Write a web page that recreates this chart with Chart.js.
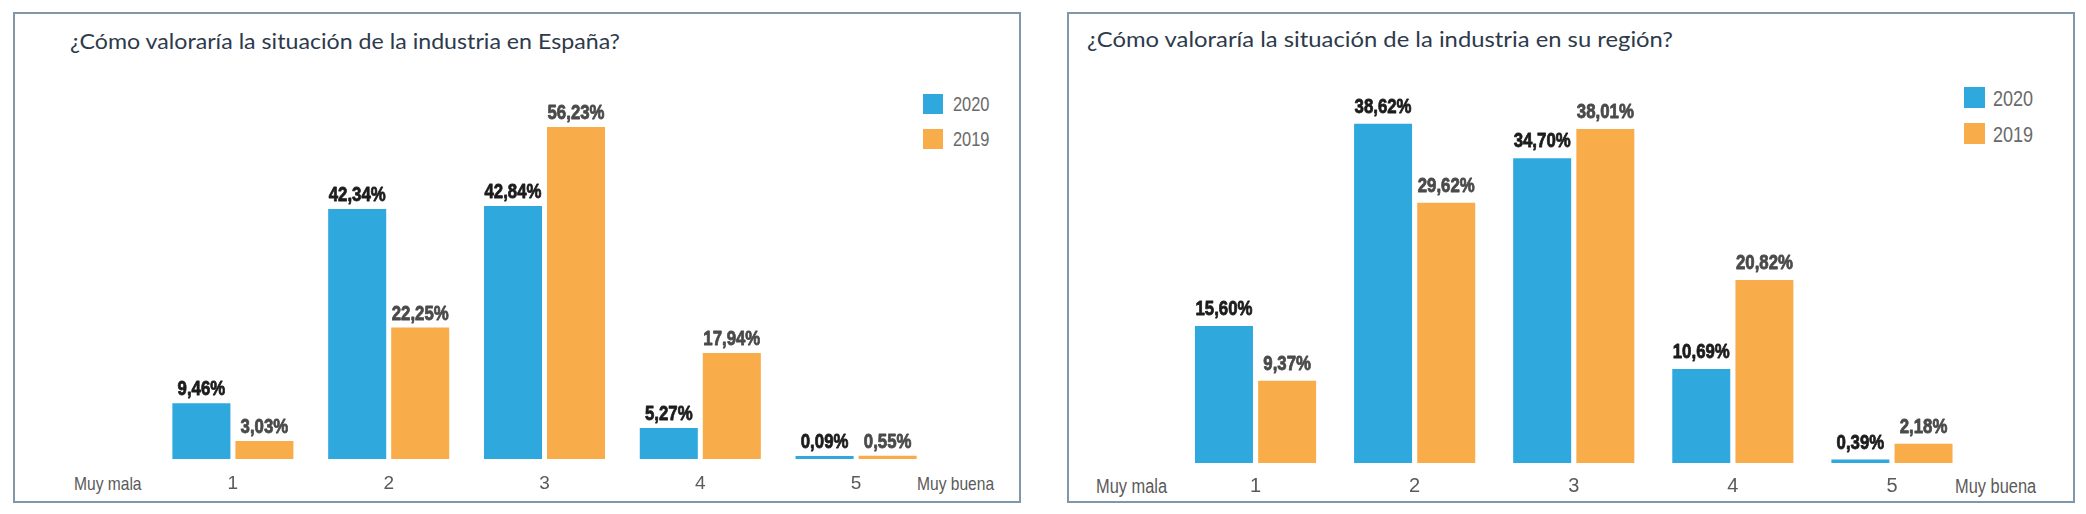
<!DOCTYPE html>
<html>
<head>
<meta charset="utf-8">
<script src="https://cdn.jsdelivr.net/npm/chart.js@4.4.1/dist/chart.umd.min.js"></script>
<style>
  html, body { margin:0; padding:0; background:#ffffff; }
  body { width:2086px; height:514px; position:relative; overflow:hidden; }
  .panel { position:absolute; top:12px; width:1008px; height:491px; box-sizing:border-box; border:2px solid #8096a9; }
  .title { position:absolute; font-family:Lato, "Open Sans", sans-serif; font-size:22px; line-height:22px; color:#2d3a4b; white-space:nowrap; transform-origin:0 0; }
  .axtxt { position:absolute; font-family:"Liberation Sans", Arial, sans-serif; color:#5a5a5a; white-space:nowrap; transform:scaleX(0.82); transform-origin:0 0; }
  .lgbox { position:absolute; }
  .lgtxt { position:absolute; font-family:"Liberation Sans", Arial, sans-serif; color:#6a6a6a; white-space:nowrap; transform:scaleX(0.82); transform-origin:0 0; }
  canvas { position:absolute; top:0; }
</style>
</head>
<body>
<div class="panel" style="left:13px;"></div>
<div class="panel" style="left:1067px;"></div>

<div class="title" data-w="550" style="left:70px; top:30px;">¿Cómo valoraría la situación de la industria en España?</div>
<div class="title" data-w="586" style="left:1087px; top:28px;">¿Cómo valoraría la situación de la industria en su región?</div>

<div class="axtxt" style="left:74px; top:474px; font-size:19px; line-height:19px;">Muy mala</div>
<div class="axtxt" style="left:917px; top:474px; font-size:19px; line-height:19px;">Muy buena</div>
<div class="axtxt" style="left:1096px; top:476px; font-size:20px; line-height:20px;">Muy mala</div>
<div class="axtxt" style="left:1955px; top:476px; font-size:20px; line-height:20px;">Muy buena</div>

<div id="legendL"></div>
<div id="legendR"></div>

<canvas id="cL" width="1043" height="514" style="left:0px; width:1043px; height:514px;"></canvas>
<canvas id="cR" width="1043" height="514" style="left:1043px; width:1043px; height:514px;"></canvas>

<script>
// ---- data ----
const categories = ['1', '2', '3', '4', '5'];
const seriesNames = ['2020', '2019'];
const spain2020 = [9.46, 42.34, 42.84, 5.27, 0.09];
const spain2019 = [3.03, 22.25, 56.23, 17.94, 0.55];
const region2020 = [15.60, 38.62, 34.70, 10.69, 0.39];
const region2019 = [9.37, 29.62, 38.01, 20.82, 2.18];

// ---- styles ----
const BLUE = '#2fa8de';
const ORANGE = '#f8ad4a';
const SANS = '"Liberation Sans", Arial, sans-serif';

// fit titles to the reference width
document.querySelectorAll('.title').forEach(el => {
  const w = el.getBoundingClientRect().width;
  const target = parseFloat(el.dataset.w);
  if (w > 0) el.style.transform = 'scaleX(' + (target / w) + ')';
});

function fmt(v) { return v.toFixed(2).replace('.', ',') + '%'; }

const valueLabels = {
  id: 'valueLabels',
  afterDatasetsDraw(chart, args, opts) {
    const ctx = chart.ctx;
    chart.data.datasets.forEach((ds, i) => {
      const meta = chart.getDatasetMeta(i);
      meta.data.forEach((bar, j) => {
        ctx.save();
        ctx.font = 'bold ' + opts.size + 'px ' + SANS;
        ctx.textAlign = 'center';
        ctx.textBaseline = 'alphabetic';
        ctx.fillStyle = opts.colors[i];
        ctx.strokeStyle = opts.colors[i];
        ctx.lineWidth = 0.8;
        ctx.lineJoin = 'round';
        ctx.translate(bar.x, bar.y - opts.gap);
        ctx.scale(opts.squeeze, 1);
        const t = fmt(ds.data[j]);
        ctx.fillText(t, 0, 0);
        ctx.strokeText(t, 0, 0);
        ctx.restore();
      });
    });
  }
};

function legendHTML(el, cfg) {
  let html = '';
  seriesNames.forEach((name, i) => {
    const y = cfg.top + i * cfg.step;
    html += '<div class="lgbox" style="left:' + cfg.boxX + 'px; top:' + y + 'px; width:' + cfg.box + 'px; height:' + cfg.box + 'px; background:' + (i === 0 ? BLUE : ORANGE) + ';"></div>';
    html += '<div class="lgtxt" style="left:' + cfg.textX + 'px; top:' + (y + cfg.textDy) + 'px; font-size:' + cfg.size + 'px; line-height:' + cfg.size + 'px;">' + name + '</div>';
  });
  el.innerHTML = html;
}

legendHTML(document.getElementById('legendL'), { boxX: 923, top: 94, step: 35, box: 20, textX: 953, textDy: 0, size: 20 });
legendHTML(document.getElementById('legendR'), { boxX: 1964, top: 87, step: 36, box: 21, textX: 1993, textDy: 1, size: 22 });

function makeChart(id, d2020, d2019, cfg) {
  return new Chart(document.getElementById(id), {
    type: 'bar',
    data: {
      labels: categories,
      datasets: [
        { label: seriesNames[0], data: d2020, backgroundColor: BLUE, borderWidth: 0,
          categoryPercentage: cfg.catPct, barPercentage: cfg.barPct, minBarLength: cfg.minBar },
        { label: seriesNames[1], data: d2019, backgroundColor: ORANGE, borderWidth: 0,
          categoryPercentage: cfg.catPct, barPercentage: cfg.barPct, minBarLength: cfg.minBar }
      ]
    },
    options: {
      responsive: false,
      animation: false,
      devicePixelRatio: 1,
      layout: { padding: cfg.padding },
      plugins: {
        legend: { display: false },
        tooltip: { enabled: false },
        valueLabels: { size: 20, gap: cfg.gap, squeeze: 0.84, colors: ['#1c1c1c', '#4a4a4a'] }
      },
      scales: {
        x: {
          grid: { display: false, drawTicks: false },
          border: { display: false },
          ticks: { color: '#5a5a5a', padding: cfg.tickPad, font: { family: SANS, size: cfg.tickSize } },
          afterFit(scale) { scale.height = 40; }
        },
        y: { display: false, min: 0, max: cfg.yMax }
      }
    },
    plugins: [valueLabels]
  });
}

makeChart('cL', spain2020, spain2019, {
  padding: { left: 155, right: 109, top: 100, bottom: 15 },
  yMax: 60.8, catPct: 0.809, barPct: 0.921, minBar: 3, gap: 8, tickPad: 13, tickSize: 19
});
makeChart('cR', region2020, region2019, {
  padding: { left: 133, right: 114.5, top: 100, bottom: 11 },
  yMax: 41.32, catPct: 0.794, barPct: 0.918, minBar: 3, gap: 11, tickPad: 11, tickSize: 20
});
</script>
</body>
</html>
